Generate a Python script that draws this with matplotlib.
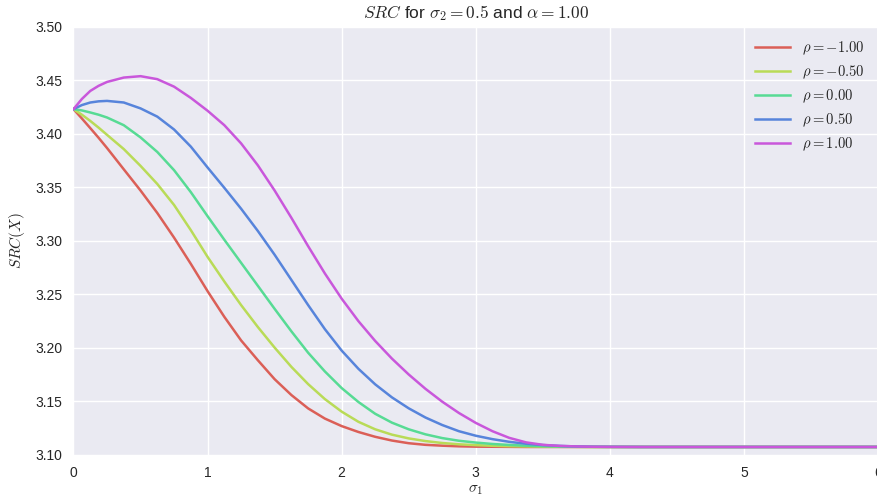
import colorsys
import numpy as np
import matplotlib
matplotlib.use("Agg")
import matplotlib.pyplot as plt

# ---- data ----
sigma1 = [0.0, 0.0625, 0.125, 0.1875, 0.25, 0.375, 0.5, 0.625, 0.75, 0.875, 1.0,
          1.125, 1.25, 1.375, 1.5, 1.625, 1.75, 1.875, 2.0, 2.125, 2.25, 2.375, 2.5,
          2.625, 2.75, 2.875, 3.0, 3.125, 3.25, 3.375, 3.5, 3.625, 3.75, 3.875, 4.0,
          4.25, 4.5, 5.0, 6.0]

src_rho_m100 = [3.4230, 3.4143, 3.4053, 3.3962, 3.3867, 3.3668, 3.3470, 3.3260, 3.3030,
                3.2785, 3.2530, 3.2290, 3.2070, 3.1885, 3.1708, 3.1560, 3.1435, 3.1340,
                3.1270, 3.1215, 3.1170, 3.1135, 3.1110, 3.1095, 3.1087, 3.1081, 3.1078,
                3.1077, 3.1076, 3.1075, 3.1075, 3.1075, 3.1075, 3.1075, 3.1075,
                3.1075, 3.1075, 3.1075, 3.1075]
src_rho_m050 = [3.4230, 3.4178, 3.4120, 3.4057, 3.3990, 3.3857, 3.3700, 3.3531, 3.3335,
                3.3100, 3.2850, 3.2620, 3.2400, 3.2195, 3.2003, 3.1823, 3.1662, 3.1522,
                3.1405, 3.1310, 3.1240, 3.1190, 3.1155, 3.1130, 3.1112, 3.1100, 3.1092,
                3.1086, 3.1082, 3.1080, 3.1078, 3.1077, 3.1076, 3.1075, 3.1075,
                3.1075, 3.1075, 3.1075, 3.1075]
src_rho_000 = [3.4230, 3.4218, 3.4199, 3.4178, 3.4152, 3.4080, 3.3966, 3.3830, 3.3660,
               3.3455, 3.3230, 3.3010, 3.2795, 3.2580, 3.2365, 3.2155, 3.1955, 3.1780,
               3.1625, 3.1495, 3.1385, 3.1302, 3.1240, 3.1193, 3.1158, 3.1133, 3.1116,
               3.1103, 3.1094, 3.1087, 3.1082, 3.1079, 3.1077, 3.1076, 3.1076,
               3.1075, 3.1075, 3.1075, 3.1075]
src_rho_050 = [3.4230, 3.4268, 3.4292, 3.4303, 3.4307, 3.4292, 3.4237, 3.4160, 3.4040,
               3.3880, 3.3685, 3.3495, 3.3300, 3.3092, 3.2870, 3.2635, 3.2400, 3.2175,
               3.1975, 3.1805, 3.1660, 3.1538, 3.1436, 3.1350, 3.1280, 3.1222, 3.1180,
               3.1148, 3.1123, 3.1105, 3.1093, 3.1085, 3.1080, 3.1077, 3.1076,
               3.1075, 3.1075, 3.1075, 3.1075]
src_rho_100 = [3.4230, 3.4325, 3.4400, 3.4448, 3.4484, 3.4525, 3.4538, 3.4510, 3.4440,
               3.4335, 3.4215, 3.4080, 3.3910, 3.3705, 3.3470, 3.3215, 3.2950, 3.2695,
               3.2460, 3.2250, 3.2065, 3.1900, 3.1752, 3.1618, 3.1498, 3.1392, 3.1300,
               3.1222, 3.1160, 3.1118, 3.1095, 3.1085, 3.1080, 3.1077, 3.1076,
               3.1075, 3.1075, 3.1075, 3.1075]

series = [src_rho_m100, src_rho_m050, src_rho_000, src_rho_050, src_rho_100]
labels = [r"$\rho = -1.00$", r"$\rho = -0.50$", r"$\rho = 0.00$",
          r"$\rho = 0.50$", r"$\rho = 1.00$"]
yticks = [3.10, 3.15, 3.20, 3.25, 3.30, 3.35, 3.40, 3.45, 3.50]
xticks = [0, 1, 2, 3, 4, 5, 6]

# hls palette (seaborn style) computed with colorsys
hues = np.linspace(0, 1, len(series) + 1)[:-1] + 0.01
colors = [colorsys.hls_to_rgb(h % 1, 0.6, 0.65) for h in hues]

plt.rcParams["font.family"] = ["Liberation Sans", "DejaVu Sans"]
plt.rcParams["mathtext.fontset"] = "cm"

fig = plt.figure(figsize=(8.78, 5.01), dpi=100)
ax = fig.add_axes([73.5 / 878, 46 / 501, (878 - 73.5) / 878, (455 - 26.7) / 501])
ax.set_facecolor("#EAEAF2")
for s in ax.spines.values():
    s.set_visible(False)
ax.grid(True, color="white", linewidth=1.0)
ax.set_axisbelow(True)

for vals, lab, c in zip(series, labels, colors):
    ax.plot(sigma1, vals, color=c, linewidth=1.8, label=lab)

ax.set_xlim(0, 6)
ax.set_ylim(3.10, 3.50)
ax.set_xticks(xticks)
ax.set_yticks(yticks)
ax.set_yticklabels([f"{v:.2f}" for v in yticks])
ax.tick_params(axis="both", length=0, pad=8, labelsize=10, colors="#262626")

ax.set_title(r"$SRC$ for $\sigma_2 = 0.5$ and $\alpha = 1.00$", fontsize=12.5, pad=6,
             color="#262626")
ax.set_xlabel(r"$\sigma_1$", fontsize=11, labelpad=2, color="#262626")
ax.set_ylabel(r"$SRC(X)$", fontsize=11, labelpad=6, color="#262626")

leg = ax.legend(loc="upper right", frameon=False, fontsize=10.5, handlelength=2.4,
                labelspacing=0.45, borderaxespad=0.5)
for t in leg.get_texts():
    t.set_color("#262626")

fig.savefig("out.png", dpi=100)
